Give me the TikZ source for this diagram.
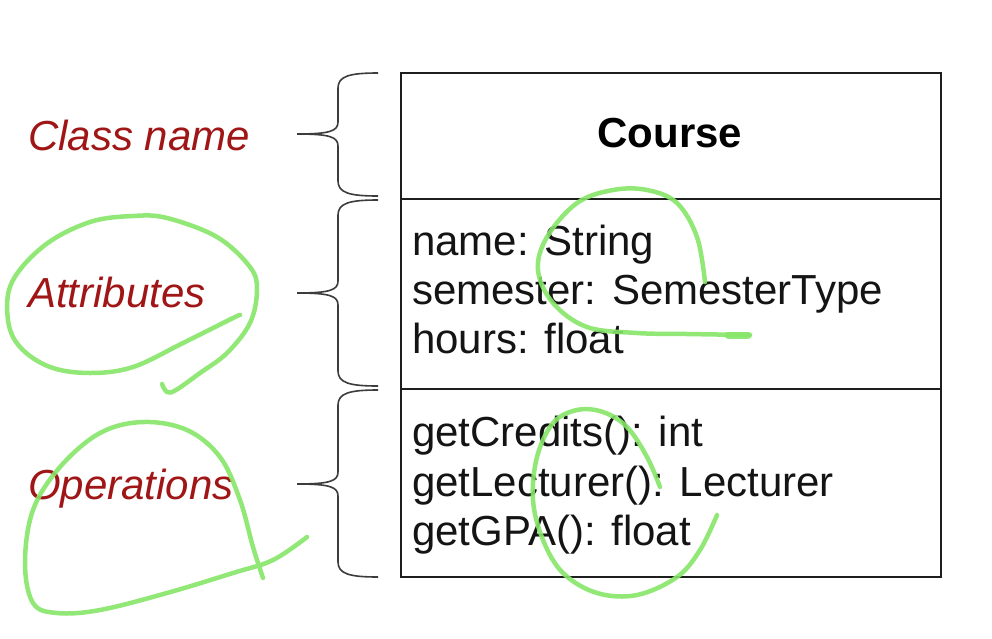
\documentclass[tikz,border=0pt]{standalone}
\usepackage{fontspec}
\setmainfont{Liberation Sans}
\begin{document}
\begin{tikzpicture}[x=1pt,y=-1pt,
  umlpart/.style={draw={rgb,255:red,30;green,30;blue,30}, line width=2pt, anchor=north west, minimum width=540pt, inner sep=0pt},
  member/.style={anchor=base west, inner sep=0pt, font=\fontsize{42}{49}\selectfont, text={rgb,255:red,20;green,20;blue,20}},
  lbl/.style={anchor=base west, inner sep=0pt, font=\fontsize{42}{49}\selectfont\itshape, text={rgb,255:red,160;green,22;blue,22}},
  bracepath/.style={draw={rgb,255:red,60;green,60;blue,60}, line width=1.6pt},
  scrib/.style={draw={rgb,255:red,135;green,230;blue,105}, line width=4.5pt, line cap=round, line join=round, opacity=0.9}
]
\useasboundingbox (0,0) rectangle (992,638);
\fill[white] (0,0) rectangle (992,638);

% class box
\node[umlpart, minimum height=126pt] (cname) at (400,72) {};
\node[umlpart, minimum height=190pt] (cattr) at (400,198) {};
\node[umlpart, minimum height=188pt] (cops) at (400,388) {};

\node[anchor=base, inner sep=0pt, font=\fontsize{42}{49}\selectfont\bfseries] (title) at (670,147) {Course};

\node[member] (a1) at (412,255) {name: String};
\node[member] (a2) at (412,304) {semester: SemesterType};
\node[member] (a3) at (412,353) {hours: float};

\node[member] (o1) at (412,446) {getCredits(): int};
\node[member] (o2) at (412,496) {getLecturer(): Lecturer};
\node[member] (o3) at (412,545) {getGPA(): float};

% labels
\node[lbl] (l1) at (28,150) {Class name};
\node[lbl] (l2) at (28,307) {Attributes};
\node[lbl] (l3) at (28,499) {Operations};

% braces
\newcommand\mybrace[3]{%
  \draw[bracepath] (378,#1) .. controls (350,#1) and (338,#1+3) .. (338,#1+15)
    -- (338,#3-12) .. controls (338,#3-3) and (330,#3) .. (297,#3)
    .. controls (330,#3) and (338,#3+3) .. (338,#3+12)
    -- (338,#2-15) .. controls (338,#2-3) and (350,#2) .. (378,#2);}
\mybrace{73}{196}{134}
\mybrace{200}{386}{293}
\mybrace{390}{577}{484}

% green annotations
\draw[scrib] plot[smooth, tension=0.6] coordinates {(162,384) (167,392) (176,390) (200,373) (227,353) (250,323) (257,290) (250,267) (217,237) (167,218) (133,216) (90,222) (45,245) (12,282) (8,320) (20,347) (50,367) (90,373) (133,367) (183,343) (233,318) (240,315)};
\draw[scrib] plot[smooth, tension=0.6] coordinates {(263,578) (253,547) (240,500) (220,457) (187,430) (143,422) (100,433) (60,467) (33,510) (25,563) (33,603) (57,613) (100,610) (167,593) (233,573) (273,560) (307,537)};
\draw[scrib] plot[smooth, tension=0.6] coordinates {(705,282) (697,237) (677,203) (647,190) (613,190) (577,203) (547,237) (538,270) (553,303) (587,327) (637,333) (687,334) (750,335)};
\draw[scrib, line width=7pt] (728,335) -- (748,335);
\draw[scrib] plot[smooth, tension=0.6] coordinates {(660,487) (647,457) (627,427) (603,412) (577,410) (553,423) (537,457) (533,500) (543,540) (563,573) (597,593) (637,595) (677,577) (700,550) (717,515)};
\end{tikzpicture}
\end{document}
